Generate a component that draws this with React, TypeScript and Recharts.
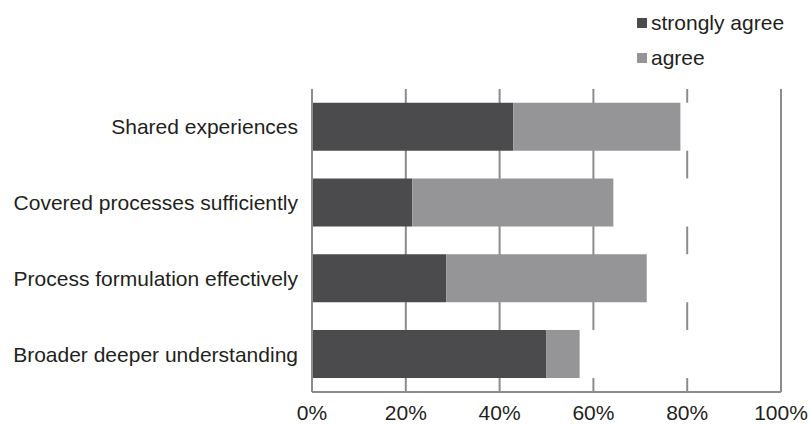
import { BarChart, Bar, XAxis, YAxis, CartesianGrid, ReferenceLine } from 'recharts';

const categories = [
  'Shared experiences',
  'Covered processes sufficiently',
  'Process formulation effectively',
  'Broader deeper understanding',
];
const stronglyAgree = [42.9, 21.4, 28.6, 50.0];
const agree = [35.7, 42.9, 42.8, 7.1];
const xTicks = [0, 20, 40, 60, 80, 100];

const data = categories.map((name, i) => ({
  name,
  strongly: stronglyAgree[i],
  agree: agree[i],
  rest: +(100 - stronglyAgree[i] - agree[i]).toFixed(1),
}));

const font = 'Arial, "Liberation Sans", sans-serif';
const textColor = '#231f20';
const lineColor = '#8c8c8c';

const legendItems = [
  { label: 'strongly agree', color: '#4b4b4d' },
  { label: 'agree', color: '#959598' },
];

const LegendBox = () => (
  <div
    style={{
      position: 'absolute',
      left: 637,
      top: 5,
      fontFamily: font,
      fontSize: 21,
      color: textColor,
    }}
  >
    {legendItems.map((it) => (
      <div key={it.label} style={{ display: 'flex', alignItems: 'center', height: 35 }}>
        <span style={{ width: 10, height: 10, background: it.color, marginRight: 4 }} />
        <span>{it.label}</span>
      </div>
    ))}
  </div>
);

export default function App() {
  return (
    <div style={{ position: 'absolute', left: 0, top: 0, width: 809, height: 424, background: '#fff' }}>
      <BarChart
        width={809}
        height={424}
        data={data}
        layout="vertical"
        margin={{ top: 89, right: 28, bottom: 0, left: 0 }}
        barCategoryGap="18%"
      >
        <CartesianGrid horizontal={false} stroke={lineColor} strokeWidth={2} />
        <XAxis
          type="number"
          domain={[0, 100]}
          ticks={xTicks}
          tickFormatter={(v) => `${v}%`}
          height={32}
          tickLine={false}
          tickSize={6}
          tickMargin={7}
          axisLine={{ stroke: lineColor, strokeWidth: 2 }}
          tick={{ fill: textColor, fontSize: 21, fontFamily: font }}
        />
        <YAxis
          type="category"
          dataKey="name"
          width={312}
          tickLine={false}
          tickSize={6}
          tickMargin={8}
          axisLine={{ stroke: lineColor, strokeWidth: 2 }}
          tick={{ fill: textColor, fontSize: 21, fontFamily: font }}
        />
        <Bar dataKey="strongly" name="strongly agree" stackId="s" fill="#4b4b4d" isAnimationActive={false} />
        <Bar dataKey="agree" name="agree" stackId="s" fill="#959598" isAnimationActive={false} />
        <Bar dataKey="rest" stackId="s" fill="#ffffff" legendType="none" isAnimationActive={false} />
        {/* keep the 100% border visible over the white remainder */}
        <ReferenceLine x={100} stroke={lineColor} strokeWidth={2} />
      </BarChart>
      <LegendBox />
    </div>
  );
}
